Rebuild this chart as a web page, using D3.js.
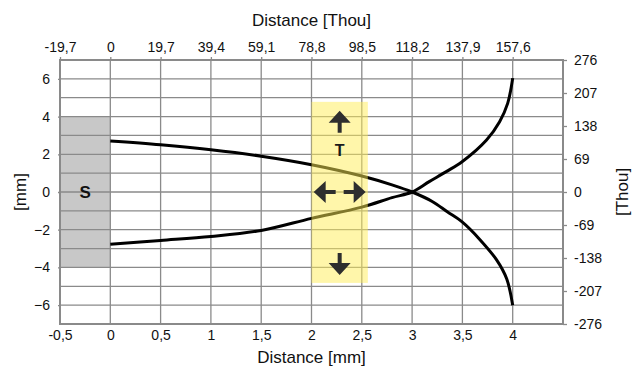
<!DOCTYPE html>
<html>
<head>
<meta charset="utf-8">
<script src="https://cdn.jsdelivr.net/npm/d3@7"></script>
<style>
  body { margin: 0; background: #fff; }
  svg { font-family: "Liberation Sans", Arial, sans-serif; }
</style>
</head>
<body>
<svg id="chart" width="638" height="370"></svg>
<script>
// Data (mm)
const upperCurve = [
  [0, 2.7], [0.5, 2.5], [1, 2.24], [1.5, 1.9], [2, 1.45], [2.5, 0.85],
  [2.8, 0.38], [3, 0], [3.2, -0.5], [3.35, -1.05], [3.5, -1.6],
  [3.67, -2.5], [3.84, -3.6], [3.94, -4.6], [4, -6]
];
const lowerCurve = [
  [0, -2.77], [0.5, -2.57], [1, -2.36], [1.5, -2.04], [2, -1.4], [2.5, -0.8],
  [2.8, -0.3], [3, 0], [3.17, 0.55], [3.34, 1.08], [3.5, 1.62],
  [3.74, 2.76], [3.87, 3.73], [3.95, 4.7], [4, 6.04]
];

const bottomTicks = [-0.5, 0, 0.5, 1, 1.5, 2, 2.5, 3, 3.5, 4];
const bottomLabels = ["-0,5", "0", "0,5", "1", "1,5", "2", "2,5", "3", "3,5", "4"];
const topLabels = ["-19,7", "0", "19,7", "39,4", "59,1", "78,8", "98,5", "118,2", "137,9", "157,6"];
const leftTicks = [6, 4, 2, 0, -2, -4, -6];
const rightTicks = [7, 5.25, 3.5, 1.75, 0, -1.75, -3.5, -5.25, -7];
const rightLabels = ["276", "207", "138", "69", "0", "-69", "-138", "-207", "-276"];

const shadeBox = { x0: -0.5, x1: 0, y0: -4, y1: 4, label: "S" };
const toolBox = { x0: 2, x1: 2.56, y0: -4.82, y1: 4.78, cx: 2.28, label: "T", labelY: 2.2, upY: 4.31, downY: -4.4 };

const margin = { top: 60, right: 75, bottom: 46, left: 60 };
const width = 638, height = 370;

const svg = d3.select("#chart");

const x = d3.scaleLinear().domain([-0.5, 4.5]).range([margin.left, width - margin.right]);
const y = d3.scaleLinear().domain([-7, 7]).range([height - margin.bottom, margin.top]);

const gridColor = "#8a8a8a";
const textColor = "#111";

// shaded region
svg.append("rect")
  .attr("x", x(shadeBox.x0)).attr("y", y(shadeBox.y1))
  .attr("width", x(shadeBox.x1) - x(shadeBox.x0))
  .attr("height", y(shadeBox.y0) - y(shadeBox.y1))
  .attr("fill", "#c8c8c8");

// grid
const grid = svg.append("g");
grid.selectAll(".v").data(d3.range(0, 9).map(i => i * 0.5))
  .join("line")
    .attr("x1", d => x(d)).attr("x2", d => x(d))
    .attr("y1", y(7)).attr("y2", y(-7))
    .attr("stroke", gridColor).attr("stroke-width", 1.3);
grid.selectAll(".h").data(d3.range(-6, 7))
  .join("line")
    .attr("y1", d => y(d)).attr("y2", d => y(d))
    .attr("x1", x(-0.5)).attr("x2", x(4.5))
    .attr("stroke", gridColor).attr("stroke-width", 1.3);

// axes
const fmt = (vals, labels) => d => labels[vals.indexOf(d)];

const styleAxis = g => {
  g.select(".domain").remove();
  g.selectAll(".tick line").attr("stroke", gridColor).attr("stroke-width", 1.3);
  g.selectAll(".tick text").attr("fill", textColor).style("font-size", "14px")
    .style("font-family", "Liberation Sans, Arial, sans-serif");
};

svg.append("g")
  .attr("transform", `translate(0,${y(-7)})`)
  .call(d3.axisBottom(x).tickValues(bottomTicks).tickFormat(fmt(bottomTicks, bottomLabels)).tickSize(0).tickPadding(6))
  .call(styleAxis);

svg.append("g")
  .attr("transform", `translate(0,${y(7)})`)
  .call(d3.axisTop(x).tickValues(bottomTicks).tickFormat(fmt(bottomTicks, topLabels)).tickSize(3).tickPadding(5))
  .call(styleAxis);

svg.append("g")
  .attr("transform", `translate(${x(-0.5)},0)`)
  .call(d3.axisLeft(y).tickValues(leftTicks).tickSize(2).tickPadding(8))
  .call(styleAxis);

svg.append("g")
  .attr("transform", `translate(${x(4.5)},0)`)
  .call(d3.axisRight(y).tickValues(rightTicks).tickFormat(fmt(rightTicks, rightLabels)).tickSize(4).tickPadding(7))
  .call(styleAxis);

// border
svg.append("rect")
  .attr("x", x(-0.5)).attr("y", y(7))
  .attr("width", x(4.5) - x(-0.5)).attr("height", y(-7) - y(7))
  .attr("fill", "none").attr("stroke", gridColor).attr("stroke-width", 2);

// curves
const line = d3.line().x(d => x(d[0])).y(d => y(d[1])).curve(d3.curveCatmullRom.alpha(0.5));
[upperCurve, lowerCurve].forEach(c => {
  svg.append("path").datum(c)
    .attr("d", line)
    .attr("fill", "none").attr("stroke", "#000").attr("stroke-width", 3);
});

// tool box
svg.append("rect")
  .attr("x", x(toolBox.x0)).attr("y", y(toolBox.y1))
  .attr("width", x(toolBox.x1) - x(toolBox.x0))
  .attr("height", y(toolBox.y0) - y(toolBox.y1))
  .attr("fill", "#ffee55").attr("opacity", 0.5);

// arrows
const arrowColor = "#2e2e2e";
const cx = x(toolBox.cx);
const arrow = (tipX, tipY, angle) => {
  // pointing up by default, then rotated
  svg.append("path")
    .attr("d", "M0,0 L11,12 L2,12 L2,22 L-2,22 L-2,12 L-11,12 Z")
    .attr("transform", `translate(${tipX},${tipY}) rotate(${angle})`)
    .attr("fill", arrowColor);
};
arrow(cx, y(toolBox.upY), 0);
arrow(cx, y(toolBox.downY), 180);
arrow(cx - 26, y(0), -90);
arrow(cx + 26, y(0), 90);

svg.append("text")
  .attr("x", cx).attr("y", y(toolBox.labelY))
  .attr("text-anchor", "middle").attr("dominant-baseline", "central")
  .attr("font-weight", "bold").attr("font-size", 16).attr("fill", "#1a1a1a")
  .text(toolBox.label);

svg.append("text")
  .attr("x", x((shadeBox.x0 + shadeBox.x1) / 2)).attr("y", y(0))
  .attr("text-anchor", "middle").attr("dominant-baseline", "central")
  .attr("font-weight", "bold").attr("font-size", 17).attr("fill", textColor)
  .text(shadeBox.label);

// titles
const midX = (x(-0.5) + x(4.5)) / 2;
svg.append("text").attr("x", midX).attr("y", 26).attr("text-anchor", "middle")
  .attr("font-size", 17).attr("fill", textColor).text("Distance [Thou]");
svg.append("text").attr("x", midX).attr("y", 363).attr("text-anchor", "middle")
  .attr("font-size", 17).attr("fill", textColor).text("Distance [mm]");
svg.append("text").attr("transform", `translate(26,${y(0)}) rotate(-90)`)
  .attr("text-anchor", "middle").attr("font-size", 17).attr("fill", textColor).text("[mm]");
svg.append("text").attr("transform", `translate(628,${y(0)}) rotate(-90)`)
  .attr("text-anchor", "middle").attr("font-size", 17).attr("fill", textColor).text("[Thou]");
</script>
</body>
</html>
